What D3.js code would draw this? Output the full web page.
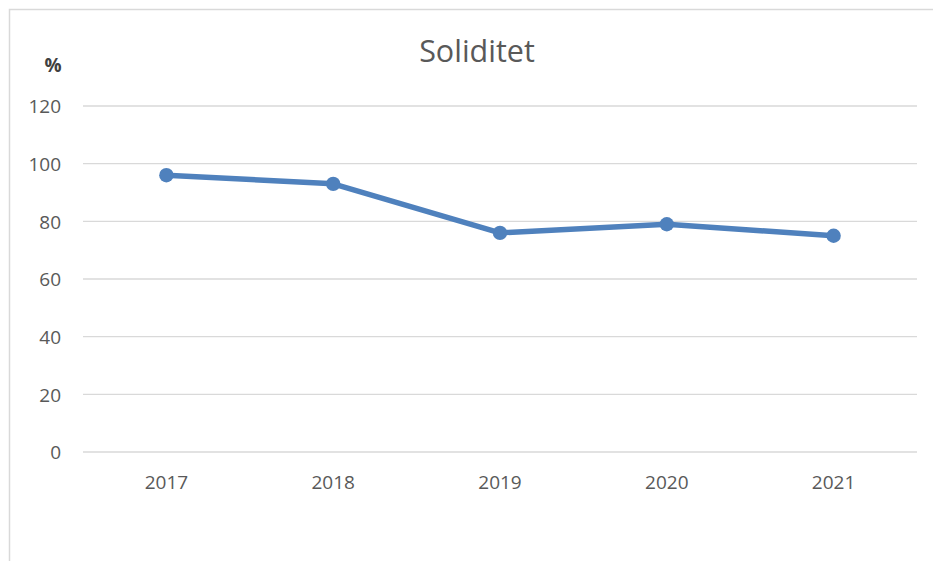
<!DOCTYPE html>
<html><head><meta charset="utf-8">
<script src="https://cdn.jsdelivr.net/npm/d3@7"></script>
<style>body{margin:0;background:#fff}svg{display:block}</style>
</head><body>
<script>
const years = ["2017","2018","2019","2020","2021"];
const soliditet = [96, 93, 76, 79, 75];
const yTicks = [0, 20, 40, 60, 80, 100, 120];
const title = "Soliditet";
const unit = "%";

const W = 933, H = 561;
const svg = d3.select("body").append("svg").attr("width", W).attr("height", H);
const font = "'Open Sans', 'Noto Sans', sans-serif";

// frame
svg.append("path").attr("d", `M9.5,561 V9.5 H933`).attr("fill","none").attr("stroke","#d9d9d9").attr("stroke-width",1.5);

const x = d3.scaleBand().domain(years).range([83, 917]);
const y = d3.scaleLinear().domain([0, 120]).range([452, 106]);

svg.append("g").selectAll("line").data(yTicks).join("line")
  .attr("x1", 83).attr("x2", 917)
  .attr("y1", d => y(d)).attr("y2", d => y(d))
  .attr("stroke", "#d9d9d9").attr("stroke-width", 1.3);

const yAxis = d3.axisLeft(y).tickValues(yTicks).tickSize(0).tickPadding(0);
svg.append("g").attr("transform", "translate(61,0)").call(yAxis)
  .call(s => s.select(".domain").remove())
  .selectAll("text").attr("font-family", font).attr("font-size", 19).attr("fill", "#595959").attr("dy","0.36em");

const xAxis = d3.axisBottom(x).tickSize(0).tickPadding(0);
svg.append("g").attr("transform", "translate(0,489)").call(xAxis)
  .call(s => s.select(".domain").remove())
  .selectAll("text").attr("font-family", font).attr("font-size", 19).attr("fill", "#595959").attr("dy","0");

const cx = (d, i) => x(years[i]) + x.bandwidth() / 2;
const line = d3.line().x((d, i) => cx(d, i)).y(d => y(d));
svg.append("path").datum(soliditet).attr("d", line)
  .attr("fill", "none").attr("stroke", "#4f81bd").attr("stroke-width", 5.5).attr("stroke-linejoin","round");
svg.selectAll("circle.pt").data(soliditet).join("circle")
  .attr("cx", (d, i) => cx(d, i)).attr("cy", d => y(d)).attr("r", 7.2).attr("fill", "#4f81bd");

svg.append("text").attr("x", 477).attr("y", 62).attr("text-anchor", "middle")
  .attr("font-family", font).attr("font-size", 30.5).attr("fill", "#595959").text(title);
svg.append("text").attr("x", 53).attr("y", 72).attr("text-anchor", "middle")
  .attr("font-family", font).attr("font-size", 19).attr("font-weight", "bold").attr("fill", "#404040").text(unit);
</script>
</body></html>
